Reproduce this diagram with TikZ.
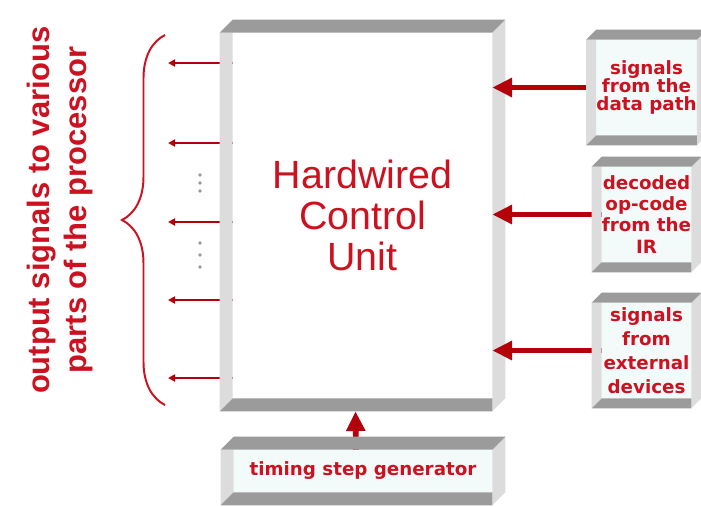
\documentclass[tikz,border=0pt]{standalone}
\usepackage{fontspec}
\newfontfamily\labelfont{Liberation Sans}
\newfontfamily\boxfont{DejaVu Sans}
\usetikzlibrary{arrows.meta,calc,decorations.pathreplacing}
\definecolor{hwred}{RGB}{204,18,32}
\definecolor{arrowred}{RGB}{180,0,10}
\definecolor{topface}{RGB}{155,155,155}
\definecolor{sideface}{RGB}{220,220,220}
\definecolor{boxfill}{RGB}{242,250,250}
\tikzset{
  panel/.style={inner sep=0pt, fill=#1, text=hwred, align=center},
  unitlabel/.style={font=\labelfont\fontsize{28}{29}\selectfont},
  srclabel/.style={font=\boxfont\bfseries\fontsize{13}{#1}\selectfont},
  sidelabel/.style={text=hwred, align=center, rotate=90,
    font=\labelfont\bfseries\fontsize{22}{27}\selectfont},
  inarrow/.style={arrowred, line width=4pt, -{Triangle[length=14pt,width=13pt]}},
  outarrow/.style={arrowred, line width=1.3pt, -{Triangle[length=5pt,width=5pt]}},
  outbrace/.style={hwred, line width=1.4pt, decorate,
    decoration={brace, amplitude=1.075cm}},
  dotcol/.style={fill=gray!80}
}
\newcommand{\bevel}[2]{%
  \fill[sideface] ($(#1.north west)+(-#2,0pt)$) -- (#1.north west) -- (#1.south west) -- ($(#1.south west)+(-#2,-#2)$) -- cycle;
  \fill[sideface] (#1.north east) -- ($(#1.north east)+(#2,#2)$) -- ($(#1.south east)+(#2,0pt)$) -- ($(#1.south east)+(0pt,-#2)$) -- cycle;
  \fill[topface] ($(#1.north west)+(-#2,0pt)$) -- ($(#1.north west)+(0pt,#2)$) -- ($(#1.north east)+(#2,#2)$) -- (#1.north east) -- cycle;
  \fill[topface] (#1.south west) -- (#1.south east) -- ($(#1.south east)+(0pt,-#2)$) -- ($(#1.south west)+(-#2,-#2)$) -- cycle;
}
\begin{document}
\begin{tikzpicture}[x=0.025cm,y=-0.025cm]
  \useasboundingbox[fill=white] (0,0) rectangle (701,506);

  \node[panel=white, unitlabel, minimum width=6.475cm, minimum height=9.125cm] (hcu) at (362.5,215.5) {Hardwired\\Control\\Unit};
  \node[panel=boxfill, srclabel=13, minimum width=6.45cm, minimum height=1.05cm] (tsg) at (363,471) {timing step generator};
  \node[panel=boxfill, srclabel=13, minimum width=2.225cm, minimum height=2.375cm] (src1) at (646.5,87.5) {signals\\from the\\data path};
  \node[panel=boxfill, srclabel=15, minimum width=2.225cm, minimum height=2.375cm] (src2) at (646.5,214.5) {decoded\\op-code\\from the\\IR};
  \node[panel=boxfill, srclabel=17, minimum width=2.225cm, minimum height=2.375cm] (src3) at (646.5,350.5) {signals\\from\\external\\devices};

  \node[sidelabel] (outlbl) at (60,210) {output signals to various\\parts of the processor};

  \foreach \y [count=\i] in {63,143,222,300,378}
    \coordinate (out\i) at (168,\y);
  \foreach \i in {1,...,5}
    \draw[outarrow] (out\i -| hcu.west) -- (out\i);
  \foreach \y in {175,183,191,243,255,267}
    \fill[dotcol] (200,\y) circle (1.3pt);

  \coordinate (btop) at (165,35);
  \coordinate (bbot) at (165,405);
  \draw[outbrace] (bbot) -- (btop);

  \bevel{hcu}{0.325cm}

  \draw[inarrow] ($(tsg.north)+(-7,0)$) -- ($(hcu.south)+(-7,13)$);
  \foreach \s in {src1,src2,src3}
    \draw[inarrow] (\s.west) -- (\s.west -| hcu.east);

  \bevel{src1}{0.25cm}
  \bevel{src2}{0.25cm}
  \bevel{src3}{0.25cm}
  \bevel{tsg}{0.325cm}
\end{tikzpicture}
\end{document}
